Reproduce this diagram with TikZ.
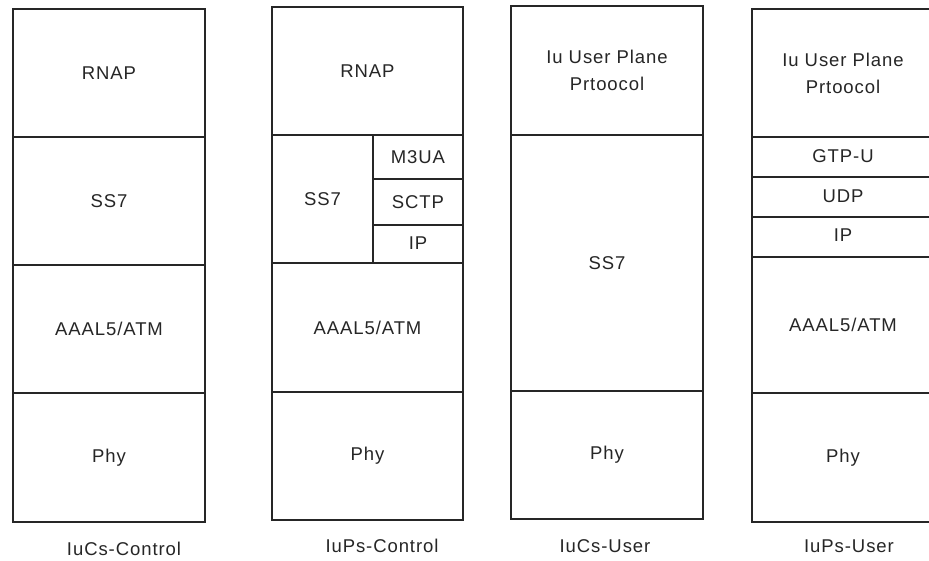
\documentclass[tikz,border=0pt]{standalone}
\usepackage{fontspec}
\setmainfont{Liberation Sans}[LetterSpace=5]
\begin{document}
\begin{tikzpicture}[x=1pt,y=-1pt,
  layer/.style={draw=black!85, line width=1.6pt, inner sep=0pt, outer sep=0pt,
    font=\fontsize{18.5}{27}\selectfont, align=center, text=black!85},
  caption/.style={font=\fontsize{18.5}{22}\selectfont, text=black!85, inner sep=0pt}]
\newcommand\lay[6]{\node[layer, minimum width={(#4-#2)*1pt}, minimum height={(#5-#3)*1pt}] (#1) at ({(#2+#4)/2},{(#3+#5)/2}) {#6};}
\useasboundingbox (0,0) rectangle (929,561);
\fill[white] (0,0) rectangle (929,561);
\clip (0,0) rectangle (929,561);
% column 1
\lay{a1}{13}{9}{205}{137}{RNAP}
\lay{a2}{13}{137}{205}{265}{SS7}
\lay{a3}{13}{265}{205}{393}{AAAL5/ATM}
\lay{a4}{13}{393}{205}{522}{Phy}
% column 2
\lay{b1}{272}{7}{463}{135}{RNAP}
\lay{b2}{272}{135}{373}{263}{SS7}
\lay{b3}{373}{135}{463}{179}{\raisebox{-4pt}{M3UA}}
\lay{b4}{373}{179}{463}{225}{\raisebox{-5pt}{SCTP}}
\lay{b5}{373}{225}{463}{263}{\raisebox{1pt}{IP}}
\lay{b6}{272}{263}{463}{392}{AAAL5/ATM}
\lay{b7}{272}{392}{463}{520}{Phy}
% column 3
\lay{c1}{511}{6}{703}{135}{Iu User Plane\\Prtoocol}
\lay{c2}{511}{135}{703}{391}{SS7}
\lay{c3}{511}{391}{703}{519}{Phy}
% column 4
\lay{d1}{752}{9}{934}{137}{Iu User Plane\\Prtoocol}
\lay{d2}{752}{137}{934}{177}{\raisebox{1pt}{GTP-U}}
\lay{d3}{752}{177}{934}{217}{\raisebox{1pt}{UDP}}
\lay{d4}{752}{217}{934}{257}{\raisebox{3pt}{IP}}
\lay{d5}{752}{257}{934}{393}{AAAL5/ATM}
\lay{d6}{752}{393}{934}{522}{Phy}
% captions
\node[caption] (la) at (124,549) {IuCs-Control};
\node[caption] (lb) at (382,546) {IuPs-Control};
\node[caption] (lc) at (605,546) {IuCs-User};
\node[caption] (ld) at (849,546) {IuPs-User};
\end{tikzpicture}
\end{document}
